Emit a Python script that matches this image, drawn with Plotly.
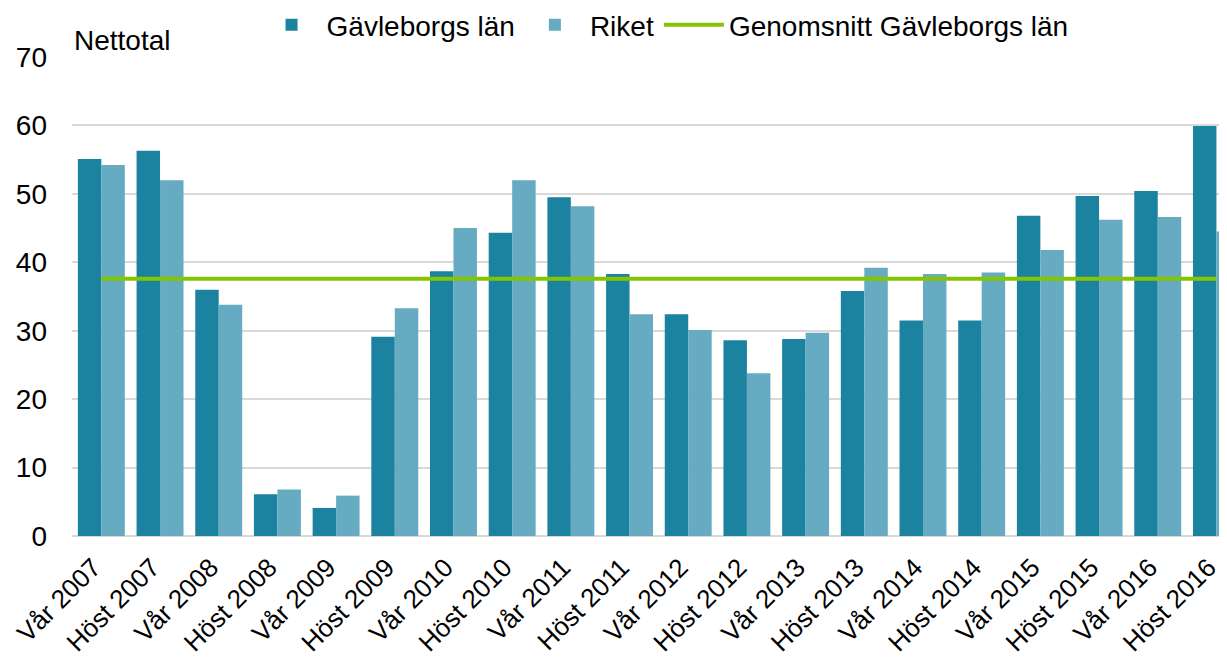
import plotly.graph_objects as go

categories = ["Vår 2007", "Höst 2007", "Vår 2008", "Höst 2008", "Vår 2009", "Höst 2009",
              "Vår 2010", "Höst 2010", "Vår 2011", "Höst 2011", "Vår 2012", "Höst 2012",
              "Vår 2013", "Höst 2013", "Vår 2014", "Höst 2014", "Vår 2015", "Höst 2015",
              "Vår 2016", "Höst 2016"]
gavleborg = [55.1, 56.3, 36.0, 6.1, 4.1, 29.1, 38.7, 44.3, 49.5, 38.3,
             32.4, 28.6, 28.8, 35.8, 31.5, 31.5, 46.8, 49.7, 50.4, 59.9]
riket = [54.2, 52.0, 33.8, 6.8, 5.9, 33.3, 45.0, 52.0, 48.2, 32.4,
         30.1, 23.8, 29.7, 39.2, 38.3, 38.5, 41.8, 46.2, 46.6, 44.5]
genomsnitt = [37.6, 37.6, 37.6, 37.6, 37.6, 37.6, 37.6, 37.6, 37.6, 37.6,
              37.6, 37.6, 37.6, 37.6, 37.6, 37.6, 37.6, 37.6, 37.6, 37.6]
y_ticks = [0, 10, 20, 30, 40, 50, 60, 70]

FONT = "Liberation Sans, Arial, sans-serif"
FS = 28

fig = go.Figure()
fig.add_trace(go.Bar(x=categories, y=gavleborg, name="Gävleborgs län",
                     marker=dict(color="#1B83A0", line=dict(width=0))))
fig.add_trace(go.Bar(x=categories, y=riket, name="Riket",
                     marker=dict(color="#66ABC2", line=dict(width=0))))
fig.add_trace(go.Scatter(x=categories, y=genomsnitt, name="Genomsnitt Gävleborgs län",
                         mode="lines", line=dict(color="#85C400", width=4)))

fig.update_layout(
    width=1219, height=656,
    margin=dict(l=64, r=0, t=49, b=128),
    paper_bgcolor="white", plot_bgcolor="white",
    font=dict(family=FONT, size=FS, color="#000000"),
    barmode="group", bargap=0.2, bargroupgap=0,
    showlegend=True,
    legend=dict(orientation="h", xref="container", yref="container",
                x=0.539, xanchor="center", y=0.974, yanchor="middle",
                itemwidth=60,
                font=dict(size=FS), bgcolor="rgba(0,0,0,0)", traceorder="normal"),
    xaxis=dict(type="category", range=[-0.5, 19.18], tickangle=-45,
               showgrid=False, showline=False, ticks="", automargin=False,
               ticklabelshift=-8, ticklabelstandoff=10,
               tickfont=dict(size=26)),
    yaxis=dict(range=[0, 70], tickvals=y_ticks, showgrid=True, gridcolor="#D9D9D9",
               gridwidth=1.5, zeroline=True, zerolinecolor="#D9D9D9", zerolinewidth=1.5,
               showline=False, ticks="", automargin=False, ticklabelstandoff=24,
               tickfont=dict(size=FS)),
    annotations=[dict(text="Nettotal", xref="paper", yref="paper", x=0.0, y=1.035,
                      xanchor="left", yanchor="middle", showarrow=False,
                      font=dict(size=FS))],
)

fig.write_html("out.html")
